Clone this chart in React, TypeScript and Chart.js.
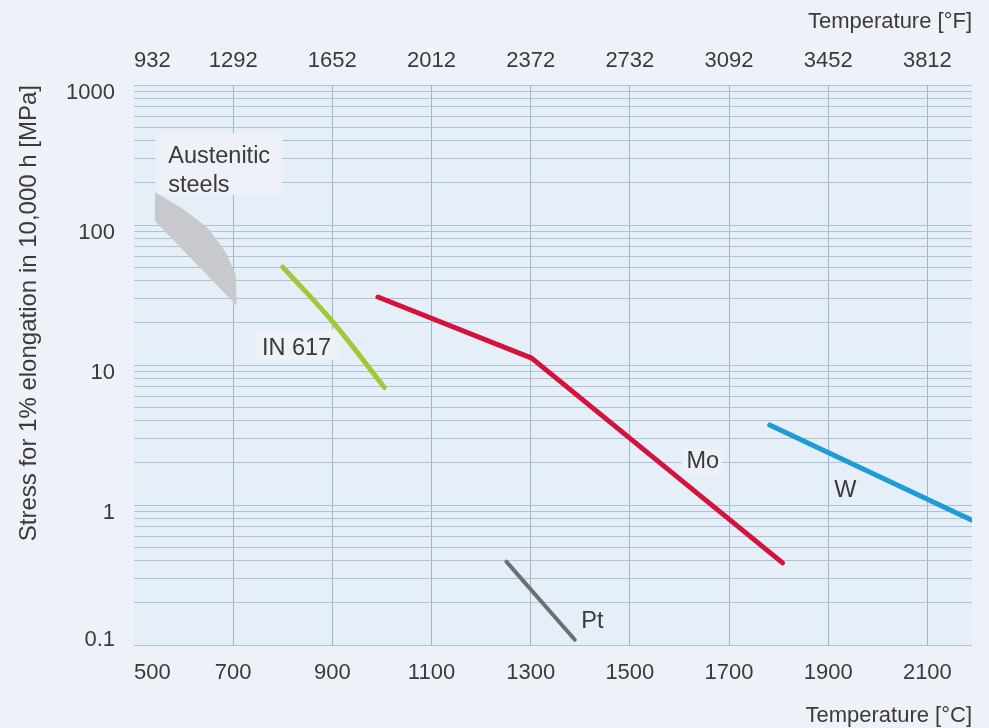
import { useEffect, useRef } from 'react';
import { Chart, registerables } from 'chart.js';

Chart.register(...registerables);

// ---- data ----
const celsiusTicks = [500, 700, 900, 1100, 1300, 1500, 1700, 1900, 2100, 2190];
const celsiusLabels = ['500', '700', '900', '1100', '1300', '1500', '1700', '1900', '2100', ''];
const fahrenheitLabels = ['932', '1292', '1652', '2012', '2372', '2732', '3092', '3452', '3812', ''];
const stressMajorTicks = [0.1, 1, 10, 100, 1000];
const stressMinorSteps = [1, 2, 3, 4, 5, 6, 7, 8, 9];

const austeniticSteels = [
  { x: 543, y: 170 }, { x: 600, y: 128 }, { x: 648, y: 95 }, { x: 684, y: 64 },
  { x: 704, y: 44 }, { x: 706, y: 27 }, { x: 543, y: 107 }, { x: 543, y: 170 },
];
const in617 = [{ x: 800, y: 50 }, { x: 900, y: 20.5 }, { x: 1005, y: 6.9 }];
const molybdenum = [{ x: 992, y: 30.6 }, { x: 1302, y: 11.2 }, { x: 1808, y: 0.386 }];
const tungsten = [{ x: 1782, y: 3.73 }, { x: 2189, y: 0.78 }];
const platinum = [{ x: 1251, y: 0.394 }, { x: 1389, y: 0.109 }];

const annotations = [
  { text: 'Austenitic', x: 569, y: 275 },
  { text: 'steels', x: 569, y: 173 },
  { text: 'IN 617', x: 758, y: 11.8 },
  { text: 'Mo', x: 1614, y: 1.84 },
  { text: 'W', x: 1912, y: 1.146 },
  { text: 'Pt', x: 1402, y: 0.1316 },
];
// regions behind labels where the grid is blanked (data coords)
const labelMasks = [
  { x0: 543, x1: 799, y0: 454, y1: 164 },
  { x0: 744, x1: 916, y0: 17.8, y1: 10.85 },
  { x0: 1605, x1: 1685, y0: 2.5, y1: 1.7 },
];

// ---- styles ----
const FONT = '"Liberation Sans", Arial, Helvetica, sans-serif';
const TEXT = '#3a3a3a';
const PAGE_BG = '#eef2f8';
const PLOT_BG = '#e6eff8';
const HGRID = '#a9c5d5';
const VGRID = '#9cb9c9';

const stressTicks: number[] = [];
for (let e = -1; e <= 2; e++) {
  for (const m of stressMinorSteps) stressTicks.push(Number((m * Math.pow(10, e)).toPrecision(6)));
}
stressTicks.push(1000);

const isMajor = (v: number) => stressMajorTicks.some((t) => Math.abs(t - v) < 1e-9);

export default function App() {
  const ref = useRef<HTMLCanvasElement | null>(null);

  useEffect(() => {
    document.body.style.margin = '0';
    document.body.style.background = PAGE_BG;
    const canvas = ref.current;
    if (!canvas) return;

    const decor = {
      id: 'decor',
      beforeDraw(chart: any) {
        const { ctx, chartArea: a } = chart;
        ctx.save();
        ctx.fillStyle = PAGE_BG;
        ctx.fillRect(0, 0, chart.width, chart.height);
        ctx.fillStyle = PLOT_BG;
        ctx.fillRect(a.left, a.top, a.right - a.left, a.bottom - a.top);
        ctx.restore();
      },
      beforeDatasetsDraw(chart: any) {
        const { ctx } = chart;
        const xs = chart.scales.x;
        const ys = chart.scales.y;
        ctx.save();
        ctx.fillStyle = PAGE_BG;
        for (const m of labelMasks) {
          const x0 = xs.getPixelForValue(m.x0);
          const x1 = xs.getPixelForValue(m.x1);
          const y0 = ys.getPixelForValue(m.y0);
          const y1 = ys.getPixelForValue(m.y1);
          ctx.fillRect(x0, y0, x1 - x0, y1 - y0);
        }
        ctx.restore();
      },
      afterDatasetsDraw(chart: any) {
        const { ctx } = chart;
        const xs = chart.scales.x;
        const ys = chart.scales.y;
        ctx.save();
        ctx.fillStyle = TEXT;
        ctx.font = `23.5px ${FONT}`;
        ctx.textAlign = 'left';
        ctx.textBaseline = 'alphabetic';
        for (const t of annotations) {
          ctx.fillText(t.text, xs.getPixelForValue(t.x), ys.getPixelForValue(t.y));
        }
        ctx.restore();
      },
    };

    const lineDs = (data: any[], color: string, width: number, extra: any = {}) => ({
      data,
      showLine: true,
      borderColor: color,
      backgroundColor: color,
      borderWidth: width,
      pointRadius: 0,
      borderCapStyle: 'round',
      borderJoinStyle: 'round',
      fill: false,
      ...extra,
    });

    const tickFont = { family: FONT, size: 22 };
    const titleFont = { family: FONT, size: 22, lineHeight: 1 };

    const chart = new Chart(canvas, {
      type: 'scatter',
      data: {
        datasets: [
          {
            data: austeniticSteels,
            showLine: true,
            fill: 'shape',
            backgroundColor: '#c8c9cc',
            borderColor: '#c8c9cc',
            borderWidth: 1,
            pointRadius: 0,
          } as any,
          lineDs(in617, '#a6c63a', 5, { tension: 0.4 }),
          lineDs(molybdenum, '#d3133d', 5),
          lineDs(tungsten, '#1f9bd7', 5),
          lineDs(platinum, '#6e6f71', 4),
        ],
      },
      options: {
        animation: false,
        responsive: false,
        devicePixelRatio: 1,
        layout: { padding: { left: 0, right: 17, top: 0, bottom: 0 } },
        plugins: { legend: { display: false }, tooltip: { enabled: false } },
        scales: {
          x: {
            type: 'linear',
            position: 'bottom',
            min: 500,
            max: 2190,
            afterBuildTicks: (s: any) => {
              s.ticks = celsiusTicks.map((v) => ({ value: v }));
            },
            afterFit: (s: any) => {
              s.height = 83;
            },
            ticks: {
              align: 'inner',
              autoSkip: false,
              maxRotation: 0,
              padding: 15,
              color: TEXT,
              font: tickFont,
              callback: (_v: any, i: number) => celsiusLabels[i],
            },
            grid: {
              drawTicks: false,
              lineWidth: 1,
              color: (c: any) =>
                c.tick && (c.tick.value === 500 || c.tick.value === 2190) ? 'rgba(0,0,0,0)' : VGRID,
            },
            border: { display: false },
            title: {
              display: true,
              text: 'Temperature [°C]',
              align: 'end',
              color: TEXT,
              font: titleFont,
              padding: { top: 0, bottom: 1 },
            },
          },
          x2: {
            type: 'linear',
            position: 'top',
            min: 500,
            max: 2190,
            afterBuildTicks: (s: any) => {
              s.ticks = celsiusTicks.map((v) => ({ value: v }));
            },
            afterFit: (s: any) => {
              s.height = 85;
            },
            ticks: {
              align: 'inner',
              autoSkip: false,
              maxRotation: 0,
              padding: 11,
              color: TEXT,
              font: tickFont,
              callback: (_v: any, i: number) => fahrenheitLabels[i],
            },
            grid: { display: false, drawTicks: false },
            border: { display: false },
            title: {
              display: true,
              text: 'Temperature [°F]',
              align: 'end',
              color: TEXT,
              font: titleFont,
              padding: { top: 11, bottom: 0 },
            },
          },
          y: {
            type: 'logarithmic',
            position: 'left',
            min: 0.1,
            max: 1000,
            afterBuildTicks: (s: any) => {
              s.ticks = stressTicks.map((v) => ({ value: v }));
            },
            afterFit: (s: any) => {
              s.width = 134;
            },
            ticks: {
              autoSkip: false,
              padding: 19,
              labelOffset: 8,
              color: TEXT,
              font: tickFont,
              callback: (v: any) => {
                const n = Number(v);
                if (!isMajor(n)) return '';
                if (Math.abs(n - stressMajorTicks[0]) < 1e-9) return [String(n), ''];
                return String(n);
              },
            },
            grid: { drawTicks: false, lineWidth: 1, color: HGRID },
            border: { display: false },
            title: {
              display: true,
              text: 'Stress for 1% elongation in 10,000 h [MPa]',
              align: 'end',
              color: TEXT,
              font: { family: FONT, size: 24, lineHeight: 1 },
              padding: { top: 17, bottom: 0 },
            },
          },
        },
      } as any,
      plugins: [decor],
    });

    return () => chart.destroy();
  }, []);

  return (
    <div style={{ width: 989, height: 728 }}>
      <canvas ref={ref} width={989} height={728} style={{ display: 'block' }} />
    </div>
  );
}
